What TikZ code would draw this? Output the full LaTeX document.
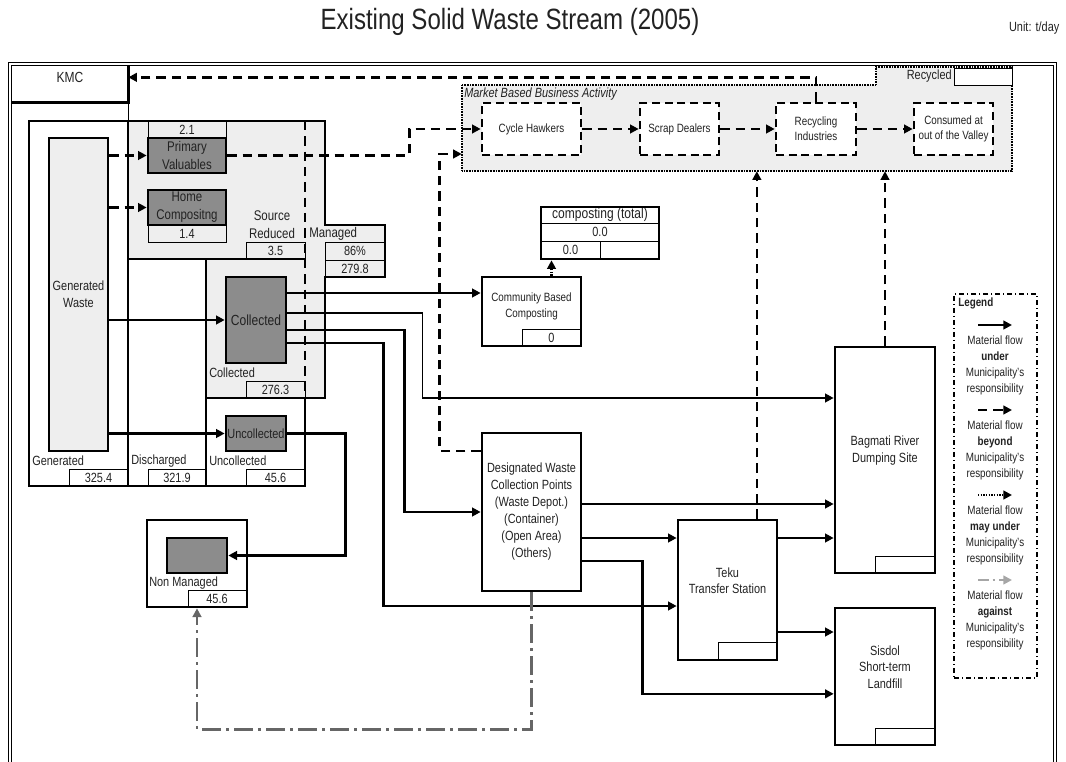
\documentclass[tikz,border=0pt]{standalone}
\usepackage{fontspec}
\setmainfont{Liberation Sans}[FakeStretch=0.82]
\usetikzlibrary{arrows.meta, positioning, fit}

\definecolor{regionfill}{HTML}{EEEEEE}
\definecolor{darkfill}{HTML}{8C8C8C}
\definecolor{flowgray}{HTML}{666666}
\definecolor{ink}{HTML}{222222}

\begin{document}
\begin{tikzpicture}[
    x=0.75pt, y=-0.75pt,
    every node/.style={font=\fontsize{10}{12.5}\selectfont, text=ink},
    box/.style={draw, line width=2pt, inner sep=0pt},
    darkbox/.style={box, fill=darkfill},
    bizbox/.style={box, fill=white, dash pattern=on 6pt off 3.5pt},
    val/.style={draw, line width=0.6pt, inner sep=0pt},
    txt/.style={label={[align=center]center:#1}},
    bigtxt/.style={label={[align=center, font=\fontsize{10.5}{13.5}\selectfont]center:#1}},
    smalltxt/.style={label={[align=center, font=\fontsize{9}{11}\selectfont]center:#1}},
    lbl/.style={inner sep=0pt, anchor=west},
    under/.style={line width=2pt, -{Triangle[length=6.5pt, width=6.5pt]}},
    beyond/.style={under, dash pattern=on 7pt off 4.5pt},
    mayunder/.style={under, dash pattern=on 1pt off 1pt},
    againstflow/.style={under, draw=flowgray, dash pattern=on 14pt off 4pt on 2pt off 4pt},
    legagainst/.style={againstflow, draw=gray!70, dash pattern=on 8pt off 3pt on 2pt off 3pt},
    legtext/.style={align=center, font=\fontsize{9}{12}\selectfont}
]
\useasboundingbox (0,0) rectangle (1066,762);

\node[font=\fontsize{22}{25}\selectfont] (title) at (510,22) {Existing Solid Waste Stream (2005)};
\node[font=\fontsize{10}{12}\selectfont, anchor=east] (unit) at (1064,28) {Unit: t/day};

% frame
\draw[double, line width=0.8pt, double distance=1.6pt] (10,762) -- (10,64) -- (1055,64) -- (1055,762);

% KMC
\node[fit={(12,66)(128,102)}, inner sep=0pt,
      label={[yshift=5pt, font=\fontsize{11}{13}\selectfont]center:KMC}] (kmc) {};
\draw[line width=2pt] (kmc.south west) -- (kmc.south east) -- (kmc.north east);

% generated / discharged / collected area
\fill[regionfill] (128,121) rectangle (325,259);
\fill[regionfill] (206,259) rectangle (325,398);
\fill[regionfill] (325,225) rectangle (385,277);
\draw[line width=0.6pt] (128,102) -- (128,121);
\draw[line width=2pt] (29,121) -- (325,121) -- (325,225) -- (385,225) -- (385,277) -- (325,277)
    -- (325,398) -- (305,398) -- (305,486) -- (29,486) -- cycle;
\draw[line width=2pt] (128,121) -- (128,486) (206,259) -- (206,486) (128,259) -- (305,259) (206,398) -- (305,398);
\draw[line width=2pt, dash pattern=on 7pt off 4.5pt] (305,121) -- (305,398);

\node[box, fill=regionfill, fit={(49,138)(108,451)}, txt={Generated\\Waste}] (genwaste) {};

\node[val, fit={(148,121)(226,138)}, txt=2.1] (pv-val) {};
\node[darkbox, fit={(148,138)(226,173)}, bigtxt={Primary\\Valuables}] (primval) {};
\node[darkbox, fit={(148,190)(226,225)}, bigtxt={Home\\Compositng}] (homecomp) {};
\node[val, fit={(148,225)(226,242)}, txt=1.4] (hc-val) {};

\node[align=center, font=\fontsize{10.5}{13.5}\selectfont] (srclbl) at (272,225) {Source\\Reduced};
\node[val, fit={(246,242)(305,259)}, txt=3.5] (sr-val) {};
\node[lbl, font=\fontsize{10.5}{13}\selectfont] (mglbl) at (309,234) {Managed};
\node[val, fit={(325,242)(385,260)}, txt=86\%] (mg-pct) {};
\node[val, fit={(325,260)(385,277)}, txt=279.8] (mg-val) {};

\node[darkbox, fit={(226,277)(286,363)},
      label={[font=\fontsize{11}{13}\selectfont]center:Collected}] (collected) {};
\node[lbl] (collbl) at (209,373) {Collected};
\node[val, fit={(246,381)(305,398)}, txt=276.3] (co-val) {};
\node[darkbox, fit={(226,416)(286,451)}, txt=Uncollected] (uncollected) {};

\node[lbl] (genlbl) at (32,461) {Generated};
\node[val, fit={(69,469)(128,486)}, txt=325.4] (gen-val) {};
\node[lbl] (dislbl) at (131,461) {Discharged};
\node[val, fit={(148,469)(206,486)}, txt=321.9] (dis-val) {};
\node[lbl] (unclbl) at (209,461) {Uncollected};
\node[val, fit={(246,469)(305,486)}, txt=45.6] (unc-val) {};

% non managed
\node[box, fit={(147,520)(247,607)}] (nonmanaged) {};
\node[darkbox, fit={(167,538)(227,573)}] (nm-inner) {};
\node[lbl] (nmlbl) at (149,583) {Non Managed};
\node[val, fit={(188,590)(246,607)}, txt=45.6] (nm-val) {};

% market based business activity
\draw[fill=regionfill, line width=1.2pt, dash pattern=on 0.6pt off 0.6pt]
    (462,85) -- (876,85) -- (876,67) -- (1012,67) -- (1012,171) -- (462,171) -- cycle;
\node[fit={(462,85)(1012,171)}, inner sep=0pt] (market) {};
\node[lbl, font=\itshape\fontsize{10}{12}\selectfont] (mktlbl) at (464,94) {Market Based Business Activity};
\node[lbl, anchor=east] (reclbl) at (952,76) {Recycled};
\node[val, fill=white, fit={(954,68)(1012,85)}] (rec-val) {};

\node[bizbox, fit={(482,103)(581,155)}, smalltxt=Cycle Hawkers] (hawkers) {};
\node[bizbox, fit={(640,103)(719,155)}, smalltxt=Scrap Dealers] (scrap) {};
\node[bizbox, fit={(776,103)(856,155)}, smalltxt={Recycling\\Industries}] (recyc) {};
\node[bizbox, fit={(914,103)(993,155)}, smalltxt={Consumed at\\out of the Valley}] (consumed) {};

% composting
\node[box, fit={(482,277)(581,346)},
      label={[yshift=4pt, align=center, font=\fontsize{9}{12}\selectfont]center:Community Based\\Composting}] (cbc) {};
\node[val, fit={(522,329)(581,346)}, txt=0] (cbc-val) {};
\node[val, fit={(541,207)(659,223)},
      label={[font=\fontsize{11}{13}\selectfont]center:composting (total)}] (ct-head) {};
\node[val, fit={(541,223)(659,241)}, txt=0.0] (ct-sum) {};
\node[val, fit={(541,241)(600,259)}, txt=0.0] (ct-a) {};
\node[val, fit={(600,241)(659,259)}] (ct-b) {};
\node[box, fit={(541,207)(659,259)}] (comptotal) {};

% collection points and disposal
\node[box, fit={(482,433)(581,591)},
      label={[align=center, font=\fontsize{10}{12.75}\selectfont]center:Designated Waste\\Collection Points\\(Waste Depot.)\\(Container)\\(Open Area)\\(Others)}] (dwcp) {};
\node[box, fit={(678,520)(777,660)},
      label={[yshift=7pt, align=center]center:Teku\\Transfer Station}] (teku) {};
\node[val, fit={(718,642)(777,660)}] (teku-val) {};
\node[box, fit={(835,347)(935,573)},
      label={[yshift=7pt, align=center]center:Bagmati River\\Dumping Site}] (bagmati) {};
\node[val, fit={(875,556)(935,573)}] (bag-val) {};
\node[box, fit={(835,608)(935,745)},
      label={[yshift=7pt, align=center]center:Sisdol\\Short-term\\Landfill}] (sisdol) {};
\node[val, fit={(875,728)(935,745)}] (sis-val) {};

% flows beyond responsibility
\draw[beyond] (hawkers) -- (scrap);
\draw[beyond] (scrap) -- (recyc);
\draw[beyond] (recyc) -- (consumed);
\draw[beyond] (recyc.north) |- ([yshift=5pt]kmc.east);
\draw[beyond] (genwaste.east |- primval.west) -- (primval.west);
\draw[beyond] (genwaste.east |- homecomp.west) -- (homecomp.west);
\draw[beyond] (primval.east) -- ++(182,0) |- (hawkers.west);
\coordinate (d0) at ([yshift=45.75pt]dwcp.west);
\coordinate (m0) at ([yshift=-19.5pt]market.west);
\draw[beyond] (d0) -- ++(-41,0) |- (m0);
\coordinate (tk) at ([xshift=22pt]teku.north);
\draw[beyond] (tk) -- (tk |- market.south);
\draw[beyond] (bagmati.north) -- (bagmati.north |- market.south);

% flows under responsibility
\draw[under] (genwaste.east |- collected.west) -- (collected.west);
\draw[under] (genwaste.east |- uncollected.west) -- (uncollected.west);
\coordinate (c1) at ([yshift=20.25pt]collected.east);
\coordinate (c2) at ([yshift=5.25pt]collected.east);
\coordinate (c3) at ([yshift=-7.5pt]collected.east);
\coordinate (c4) at ([yshift=-17.25pt]collected.east);
\coordinate (bgA) at ([yshift=46.5pt]bagmati.west);
\draw[under] (c1) -- (c1 -| cbc.west);
\draw[line width=0.8pt] (c2) -- ++(135,0) |- (bgA -| dwcp.west);
\draw[under] (bgA -| dwcp.west) -- (bgA);
\draw[under] (c3) -- ++(117,0) |- (dwcp.west);
\draw[under] (c4) -- ++(96,0) |- ([yshift=-12pt]teku.west);
\draw[under] (uncollected.east) -- ++(58,0) |- (nm-inner.east);

\coordinate (d1) at ([yshift=6pt]dwcp.east);
\coordinate (d2) at ([yshift=-19.5pt]dwcp.east);
\coordinate (d3) at ([yshift=-36.75pt]dwcp.east);
\draw[under] (d1) -- (d1 -| bagmati.west);
\draw[under] (d2) -- (d2 -| teku.west);
\draw[under] (d3) -- ++(60,0) |- ([yshift=-13pt]sisdol.west);
\coordinate (t1) at ([yshift=39pt]teku.east);
\coordinate (t2) at ([yshift=-31.5pt]teku.east);
\draw[under] (t1) -- (t1 -| bagmati.west);
\draw[under] (t2) -- (t2 -| sisdol.west);

% flows may under / against
\coordinate (cbcup) at ([xshift=15pt]cbc.north);
\draw[mayunder] (cbcup) -- (cbcup |- comptotal.south);
\draw[againstflow] (dwcp.south) -- ++(0,137) -| (nonmanaged.south);

% legend
\node[fit={(954,294)(1037,678)}, inner sep=0pt, draw, line width=1.2pt,
      dash pattern=on 4pt off 2pt on 1pt off 2pt] (legend) {};
\node[lbl, font=\bfseries\fontsize{9}{11}\selectfont] (legtitle) at (958,303) {Legend};
\foreach \sty/\word [count=\i from 0] in {under/under, beyond/beyond, mayunder/may under, legagainst/against} {
  \draw[\sty] (978,325+85*\i) -- (1012,325+85*\i);
  \node[legtext] (leg\i) at (995,365+85*\i) {Material flow\\\textbf{\word}\\Municipality's\\responsibility};
}
\end{tikzpicture}
\end{document}
